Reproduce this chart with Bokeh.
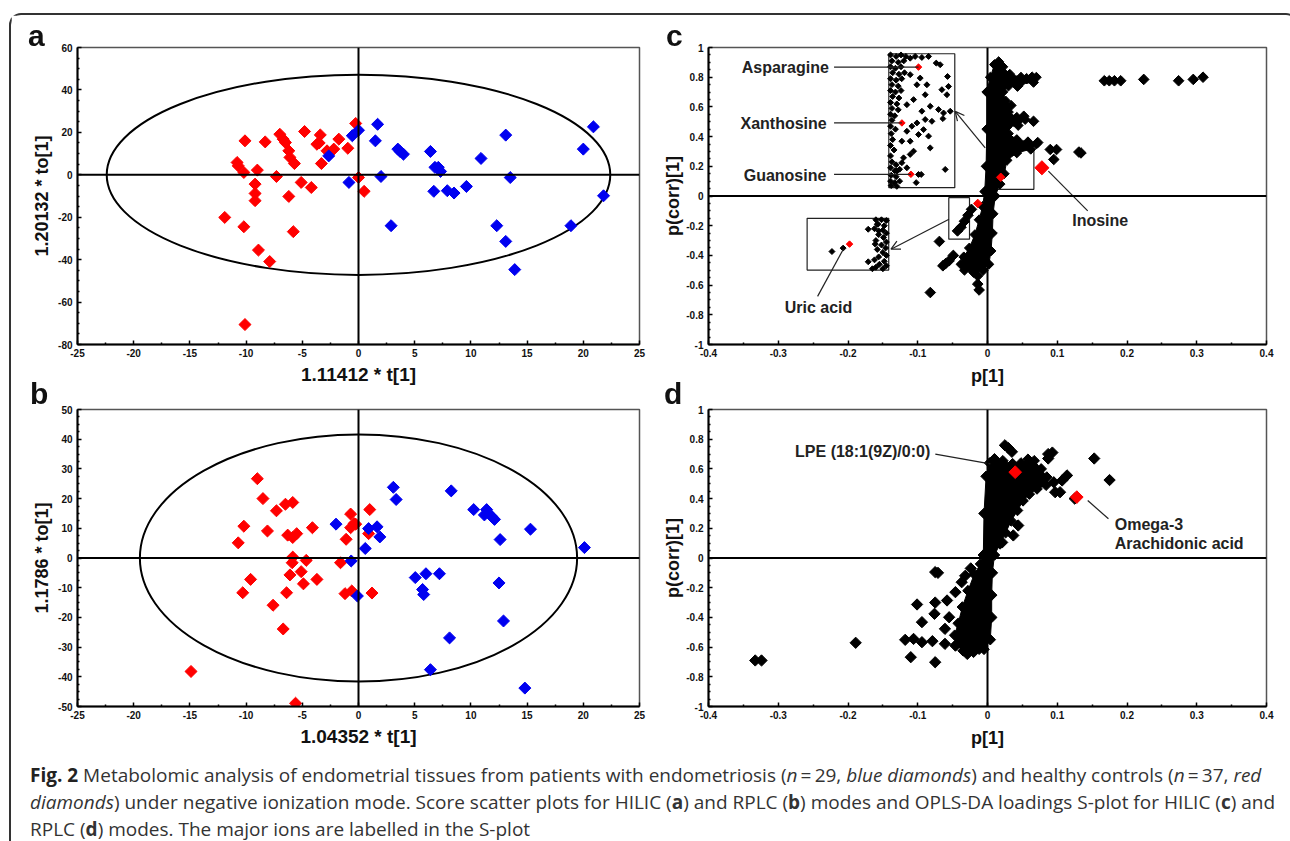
import math
from bokeh.plotting import figure
from bokeh.models import Span, Label, Arrow, OpenHead, FixedTicker, Div, Range1d
from bokeh.layouts import row, column
from bokeh.embed import file_html
from bokeh.resources import INLINE

# ---------------- data ----------------
# Panel a (HILIC score plot)
A_RED_X = [-10.1, -8.3, -7.0, -6.7, -6.5, -4.8, -3.4, -3.7, -3.5, -1.75, -2.2, -2.8, -0.95, -0.25, -6.2, -6.1,
           -5.7, -3.3, -10.8, -10.7, -10.2, -9.0, -7.3, -9.2, -9.2, -9.2, -5.1, -4.2, -6.2, 0.0, 0.5, -11.9,
           -10.2, -5.8, -8.9, -7.9, -10.1]
A_RED_Y = [16.0, 15.5, 19.1, 16.8, 15.2, 20.4, 18.8, 14.4, 15.0, 16.8, 12.1, 11.3, 12.5, 24.2, 11.3, 8.2,
           5.3, 5.3, 5.8, 4.2, 1.1, 2.2, -0.8, -4.4, -8.8, -12.2, -3.6, -6.0, -10.2, -1.3, -7.8, -20.1,
           -24.5, -26.8, -35.5, -40.9, -70.6]
A_BLUE_X = [-2.65, -0.55, 0.0, 1.7, 1.5, -0.85, 2.0, 3.5, 3.7, 4.0, 6.4, 6.8, 7.1, 7.3, 6.7, 7.9, 8.5, 9.6,
            10.9, 2.9, 13.1, 13.5, 12.3, 13.1, 13.9, 18.9, 20.0, 20.9, 21.8]
A_BLUE_Y = [8.9, 18.4, 21.0, 23.8, 16.0, -3.6, -0.8, 12.1, 11.0, 9.7, 11.0, 3.5, 3.5, 1.6, -7.8, -7.5, -8.6,
            -5.5, 7.7, -24.0, 18.7, -1.3, -24.0, -31.4, -44.7, -24.0, 12.1, 22.6, -9.9]
A_ELLIPSE = [22.4, 47.2]          # semi-axes (t, to)

# Panel b (RPLC score plot)
B_RED_X = [-9.0, -8.5, -7.3, -6.5, -5.85, -10.2, -10.7, -8.1, -6.3, -5.85, -5.5, -4.1, -0.7, -0.4, -0.7, -0.25,
           1.0, 0.9, -1.1, -5.85, -5.9, -4.65, -1.6, -5.1, -6.1, -4.9, -3.7, -9.6, -10.3, -6.4, -1.2, -0.6,
           1.2, -7.6, -6.7, -14.9, -5.6]
B_RED_Y = [26.7, 20.0, 15.9, 18.1, 18.7, 10.7, 5.1, 9.1, 7.7, 6.9, 8.2, 10.2, 14.8, 11.6, 10.2, 11.4,
           16.3, 8.2, 6.3, 0.3, -1.6, -0.8, -1.6, -4.6, -5.7, -8.7, -7.2, -7.2, -11.7, -11.7, -12.0, -11.1,
           -11.8, -15.9, -23.9, -38.2, -48.9]
B_BLUE_X = [-2.0, 0.9, 1.65, 1.9, 0.6, -0.65, -0.1, 3.1, 3.35, 8.25, 10.25, 11.4, 11.2, 12.1, 12.6, 15.3,
            20.1, 5.05, 6.0, 7.2, 5.7, 5.8, 12.5, 12.9, 8.1, 6.4, 14.8, 11.5, 11.9]
B_BLUE_Y = [11.4, 9.9, 10.5, 7.1, 3.2, -1.0, -12.8, 23.8, 19.7, 22.6, 16.3, 16.3, 14.5, 13.0, 6.2, 9.7,
            3.5, -6.6, -5.3, -5.3, -10.6, -12.3, -8.4, -21.2, -26.9, -37.6, -43.8, 15.3, 13.8]
B_ELLIPSE = [19.45, 41.6]

# Panel c (HILIC S-plot): dense core outline, outlying loadings, zoom-inset loadings, highlighted ions
C_CORE_X = [0.004, 0.010, 0.016, 0.022, 0.032, 0.048, 0.062, 0.070, 0.066, 0.046, 0.030, 0.022, 0.026, 0.034,
            0.030, 0.042, 0.054, 0.044, 0.028, 0.030, 0.042, 0.058, 0.070, 0.062, 0.042, 0.028, 0.024, 0.018,
            0.011, 0.008, 0.007, 0.005, 0.002, -0.006, -0.020, -0.033, -0.038, -0.034, -0.026, -0.018,
            -0.012, -0.007, -0.004, -0.002, -0.001, -0.001]
C_CORE_Y = [0.80, 0.885, 0.905, 0.87, 0.82, 0.80, 0.79, 0.80, 0.765, 0.755, 0.74, 0.70, 0.64, 0.61,
            0.565, 0.53, 0.515, 0.475, 0.465, 0.42, 0.38, 0.365, 0.35, 0.315, 0.29, 0.24, 0.15, 0.08,
            0.00, -0.12, -0.25, -0.37, -0.46, -0.50, -0.515, -0.50, -0.46, -0.41, -0.35, -0.26,
            -0.16, -0.07, 0.03, 0.20, 0.45, 0.70]
C_OUT_X = [0.1675, 0.1746, 0.182, 0.191, 0.224, 0.274, 0.295, 0.309, 0.090, 0.099, 0.095, 0.134, 0.131,
           0.043, 0.064, 0.056, 0.052, 0.066, 0.072, -0.082, -0.069, -0.064, -0.060, -0.055, -0.049, -0.043,
           -0.038, -0.033, -0.028, -0.023, -0.014, -0.014, -0.012]
C_OUT_Y = [0.776, 0.776, 0.776, 0.776, 0.785, 0.776, 0.785, 0.800, 0.313, 0.313, 0.246, 0.290, 0.296,
           0.740, 0.800, 0.790, 0.537, 0.503, 0.360, -0.650, -0.306, -0.470, -0.455, -0.436, -0.400, -0.235,
           -0.210, -0.170, -0.130, -0.090, -0.537, -0.593, -0.633]
C_INSET_X = [-0.139, -0.131, -0.124, -0.117, -0.137, -0.128, -0.120, -0.139, -0.132, -0.124, -0.136, -0.127,
             -0.119, -0.139, -0.131, -0.123, -0.137, -0.128, -0.139, -0.132, -0.124, -0.136, -0.127, -0.139,
             -0.130, -0.137, -0.128, -0.139, -0.133, -0.137, -0.139, -0.132, -0.138, -0.136, -0.139, -0.134,
             -0.139, -0.137, -0.131, -0.139, -0.133, -0.126, -0.138, -0.131, -0.139, -0.133, -0.126, -0.138,
             -0.130,
             -0.1108, -0.1037, -0.0941, -0.0845, -0.0735, -0.0678, -0.0573, -0.0559, -0.0654, -0.0582,
             -0.0965, -0.0869, -0.1108, -0.1012, -0.0893, -0.1060, -0.1156, -0.0821, -0.0941, -0.0702,
             -0.0630, -0.0534, -0.0640, -0.0797, -0.0893, -0.1012, -0.1084, -0.1156, -0.0917, -0.0989,
             -0.0845, -0.1108, -0.1228, -0.0821, -0.1060, -0.1108, -0.1204, -0.1228, -0.0989, -0.0950,
             -0.0606, -0.1022, -0.1156, -0.1299]
C_INSET_Y = [0.95, 0.94, 0.95, 0.94, 0.91, 0.90, 0.91, 0.87, 0.86, 0.87, 0.83, 0.82, 0.83, 0.79, 0.78, 0.79,
             0.75, 0.74, 0.71, 0.70, 0.71, 0.67, 0.66, 0.63, 0.62, 0.59, 0.58, 0.55, 0.54, 0.51, 0.47, 0.45,
             0.42, 0.38, 0.34, 0.31, 0.27, 0.23, 0.21, 0.19, 0.17, 0.18, 0.14, 0.13, 0.10, 0.09, 0.10, 0.07,
             0.065,
             0.928, 0.940, 0.933, 0.940, 0.895, 0.884, 0.805, 0.738, 0.716, 0.682,
             0.794, 0.749, 0.817, 0.749, 0.682, 0.649, 0.615, 0.604, 0.571, 0.582,
             0.559, 0.571, 0.521, 0.503, 0.515, 0.492, 0.470, 0.436, 0.447, 0.414,
             0.403, 0.369, 0.369, 0.324, 0.302, 0.280, 0.257, 0.224, 0.145, 0.145,
             0.179, 0.090, 0.190, 0.168]
C_INSET2_X = [-0.223, -0.207, -0.171, -0.171, -0.161, -0.158, -0.156, -0.160, -0.152, -0.145, -0.157, -0.148,
              -0.162, -0.150, -0.145, -0.156, -0.149, -0.160, -0.145, -0.152, -0.146, -0.158, -0.150, -0.145,
              -0.156, -0.162, -0.148, -0.155, -0.145, -0.160, -0.150, -0.165]
C_INSET2_Y = [-0.374, -0.351, -0.224, -0.443, -0.324, -0.190, -0.235, -0.16, -0.16, -0.165, -0.19, -0.20,
              -0.22, -0.23, -0.25, -0.26, -0.28, -0.30, -0.31, -0.33, -0.35, -0.36, -0.38, -0.40,
              -0.41, -0.43, -0.44, -0.46, -0.47, -0.48, -0.49, -0.49]
C_ION_NAMES = ["Asparagine", "Xanthosine", "Guanosine", "Inosine", "Uric acid"]
C_ION_X = [-0.0989, -0.1227, -0.1098, 0.078, -0.1978]   # first three and uric acid shown in the magnified insets
C_ION_Y = [0.868, 0.492, 0.146, 0.19, -0.324]
C_CORE_RED_X = [0.019, -0.014]
C_CORE_RED_Y = [0.126, -0.05]

# Panel d (RPLC S-plot)
D_CORE_X = [-0.006, -0.005, -0.002, 0.003, 0.010, 0.022, 0.036, 0.048, 0.058, 0.067, 0.077, 0.085, 0.084,
            0.071, 0.060, 0.051, 0.043, 0.034, 0.026, 0.018, 0.010, 0.007, 0.006, 0.006, 0.004, -0.005,
            -0.020, -0.035, -0.045, -0.047, -0.042, -0.036, -0.028, -0.019, -0.010]
D_CORE_Y = [0.02, 0.30, 0.55, 0.64, 0.668, 0.655, 0.635, 0.64, 0.665, 0.655, 0.60, 0.545, 0.49,
            0.465, 0.43, 0.385, 0.32, 0.25, 0.17, 0.095, 0.02, -0.10, -0.25, -0.40, -0.55, -0.615,
            -0.635, -0.625, -0.585, -0.52, -0.44, -0.33, -0.22, -0.11, -0.04]
D_OUT_X = [0.025, 0.030, 0.035, 0.087, 0.093, 0.087, 0.153, 0.175, 0.114, 0.107, 0.095, 0.097, 0.104, 0.125,
           0.037, 0.046, 0.044, 0.037, 0.021,
           -0.075, -0.071, -0.101, -0.075, -0.058, -0.094, -0.076, -0.061, -0.055, -0.118, -0.106, -0.094,
           -0.079, -0.061, -0.046, -0.110, -0.075, -0.029, -0.012, -0.046, -0.037, -0.032, -0.024, -0.189,
           -0.333, -0.324]
D_OUT_Y = [0.759, 0.740, 0.715, 0.700, 0.710, 0.670, 0.670, 0.525, 0.556, 0.522, 0.510, 0.443, 0.443, 0.400,
           0.350, 0.390, 0.219, 0.152, 0.105,
           -0.095, -0.100, -0.313, -0.300, -0.286, -0.432, -0.376, -0.477, -0.399, -0.551, -0.545, -0.567,
           -0.560, -0.578, -0.590, -0.668, -0.702, -0.646, -0.612, -0.230, -0.163, -0.120, -0.070, -0.571,
           -0.690, -0.690]
D_ION_NAMES = ["LPE (18:1(9Z)/0:0)", "Omega-3", "Arachidonic acid"]
D_ION_X = [0.0397, 0.128]
D_ION_Y = [0.578, 0.41]

# axis ticks and labels
AB_XTICKS = [-25, -20, -15, -10, -5, 0, 5, 10, 15, 20, 25]
AB_XLABELS = ["-25", "-20", "-15", "-10", "-5", "0", "5", "10", "15", "20", "25"]
A_YTICKS = [-80, -60, -40, -20, 0, 20, 40, 60]
A_YLABELS = ["-80", "-60", "-40", "-20", "0", "20", "40", "60"]
B_YTICKS = [-50, -40, -30, -20, -10, 0, 10, 20, 30, 40, 50]
B_YLABELS = ["-50", "-40", "-30", "-20", "-10", "0", "10", "20", "30", "40", "50"]
CD_XTICKS = [-0.4, -0.3, -0.2, -0.1, 0.0, 0.1, 0.2, 0.3, 0.4]
CD_XLABELS = ["-0.4", "-0.3", "-0.2", "-0.1", "0", "0.1", "0.2", "0.3", "0.4"]
CD_YTICKS = [-1.0, -0.8, -0.6, -0.4, -0.2, 0.0, 0.2, 0.4, 0.6, 0.8, 1.0]
CD_YLABELS = ["-1", "-0.8", "-0.6", "-0.4", "-0.2", "0", "0.2", "0.4", "0.6", "0.8", "1"]
PANEL_LETTERS = ["a", "b", "c", "d"]

# ---------------- styling ----------------
FONT = "Liberation Sans"
RED = "#ff0000"
BLUE = "#0000f0"
ANG = math.pi / 4


def base_fig(w, h, left, right, top, bottom, xr, yr, xt, xl, xminor, yt, yl, yminor, xlabel, ylabel,
             xlab_size, ylab_size, x_std, y_std):
    p = figure(width=w, height=h, x_range=Range1d(*xr), y_range=Range1d(*yr),
               output_backend="svg", toolbar_location=None,
               min_border_left=left, min_border_right=right, min_border_top=top, min_border_bottom=bottom)
    p.grid.visible = False
    p.outline_line_color = "#555555"
    p.outline_line_width = 1.5
    p.background_fill_color = "white"
    p.border_fill_color = "white"
    xa, ya = p.xaxis[0], p.yaxis[0]
    xa.ticker = FixedTicker(ticks=xt, minor_ticks=xminor)
    ya.ticker = FixedTicker(ticks=yt, minor_ticks=yminor)
    xa.major_label_overrides = dict(zip(xt, xl))
    ya.major_label_overrides = dict(zip(yt, yl))
    xa.axis_label = xlabel
    ya.axis_label = ylabel
    xa.axis_label_text_font_size = xlab_size
    ya.axis_label_text_font_size = ylab_size
    xa.axis_label_standoff = x_std
    ya.axis_label_standoff = y_std
    xa.major_label_standoff = 4
    ya.major_label_standoff = 5
    for ax in (xa, ya):
        ax.axis_line_width = 2
        ax.axis_line_color = "black"
        ax.major_tick_in = 4
        ax.major_tick_out = 0
        ax.minor_tick_in = 2
        ax.minor_tick_out = 0
        ax.major_tick_line_width = 1.5
        ax.minor_tick_line_width = 1.5
        ax.major_tick_line_color = "black"
        ax.minor_tick_line_color = "black"
        ax.major_label_text_font = FONT
        ax.major_label_text_font_style = "bold"
        ax.major_label_text_font_size = "10px"
        ax.major_label_text_color = "#111111"
        ax.axis_label_text_font = FONT
        ax.axis_label_text_font_style = "bold"
        ax.axis_label_text_color = "#111111"
    p.add_layout(Span(location=0, dimension="height", line_color="black", line_width=2))
    p.add_layout(Span(location=0, dimension="width", line_color="black", line_width=2))
    return p


def callout(p, x, y, txt, align="left"):
    p.add_layout(Label(x=x, y=y, text=txt, text_font=FONT, text_font_style="bold",
                       text_font_size="16px", text_color="#222222", text_align=align,
                       text_baseline="middle"))


ab_xminor = [-22.5, -17.5, -12.5, -7.5, -2.5, 2.5, 7.5, 12.5, 17.5, 22.5]
a_yminor = [v for v in range(-75, 60, 5) if v % 20 != 0]
b_yminor = [v * 2.5 for v in range(-19, 20) if v % 4 != 0]
cd_xminor = [-0.35, -0.25, -0.15, -0.05, 0.05, 0.15, 0.25, 0.35]
cd_yminor = [round(v * 0.05, 2) for v in range(-19, 20) if v % 4 != 0]

# ---------------- panel a ----------------
pa = base_fig(644, 374, 66, 16, 32, 45, (-25, 25), (-80, 60), AB_XTICKS, AB_XLABELS, ab_xminor,
              A_YTICKS, A_YLABELS, a_yminor, "1.11412 * t[1]", "1.20132 * to[1]", "19px", "18px", 4, 3)
pa.ellipse(x=[0], y=[0], width=[2 * A_ELLIPSE[0]], height=[2 * A_ELLIPSE[1]],
           fill_color=None, line_color="black", line_width=2)
pa.scatter(A_RED_X, A_RED_Y, marker="square", angle=ANG, size=8.5, fill_color=RED, line_color=RED)
pa.scatter(A_BLUE_X, A_BLUE_Y, marker="square", angle=ANG, size=8.5, fill_color=BLUE, line_color=BLUE)

# ---------------- panel b ----------------
pb = base_fig(644, 362, 66, 16, 20, 45, (-25, 25), (-50, 50), AB_XTICKS, AB_XLABELS, ab_xminor,
              B_YTICKS, B_YLABELS, b_yminor, "1.04352 * t[1]", "1.1786 * to[1]", "19px", "18px", 4, 3)
pb.ellipse(x=[0], y=[0], width=[2 * B_ELLIPSE[0]], height=[2 * B_ELLIPSE[1]],
           fill_color=None, line_color="black", line_width=2)
pb.scatter(B_RED_X, B_RED_Y, marker="square", angle=ANG, size=8.5, fill_color=RED, line_color=RED)
pb.scatter(B_BLUE_X, B_BLUE_Y, marker="square", angle=ANG, size=8.5, fill_color=BLUE, line_color=BLUE)

# ---------------- panel c ----------------
pc = base_fig(631, 374, 53, 20, 31, 45, (-0.4, 0.4), (-1, 1), CD_XTICKS, CD_XLABELS, cd_xminor,
              CD_YTICKS, CD_YLABELS, cd_yminor, "p[1]", "p(corr)[1]", "18px", "18px", 6, 0)
pc.quad(left=[0.0, -0.0555], right=[0.0665, -0.0258], bottom=[0.045, -0.291], top=[0.313, -0.011],
        fill_color=None, line_color="#222222", line_width=1.2)
pc.patch(C_CORE_X, C_CORE_Y, fill_color="black", line_color="black", line_width=1)
pc.scatter(C_CORE_X, C_CORE_Y, marker="square", angle=ANG, size=7, color="black")
pc.scatter(C_OUT_X, C_OUT_Y, marker="square", angle=ANG, size=7.5, color="black")
pc.scatter(C_CORE_RED_X, C_CORE_RED_Y, marker="square", angle=ANG, size=6, color=RED)
pc.quad(left=[-0.1415, -0.2586], right=[-0.0469, -0.1416], bottom=[0.056, -0.499], top=[0.958, -0.150],
        fill_color="white", line_color="#222222", line_width=1.2)
pc.scatter(C_INSET_X, C_INSET_Y, marker="square", angle=ANG, size=4.2, color="black")
pc.scatter(C_INSET2_X, C_INSET2_Y, marker="square", angle=ANG, size=4.2, color="black")
pc.scatter(C_ION_X[:3] + C_ION_X[4:], C_ION_Y[:3] + C_ION_Y[4:], marker="square", angle=ANG, size=4.6,
           color=RED)
pc.scatter([C_ION_X[3]], [C_ION_Y[3]], marker="square", angle=ANG, size=10, color=RED)
pc.add_layout(Arrow(end=OpenHead(size=9, line_width=1.2, line_color="#222222"), x_start=-0.0033,
                    y_start=0.324, x_end=-0.0463, y_end=0.570, line_width=1.2, line_color="#222222"))
pc.add_layout(Arrow(end=OpenHead(size=9, line_width=1.2, line_color="#222222"), x_start=-0.0552,
                    y_start=-0.157, x_end=-0.1384, y_end=-0.358, line_width=1.2, line_color="#222222"))
pc.segment(x0=[-0.220, -0.220, -0.220, 0.0873, -0.2067], y0=[C_ION_Y[0], C_ION_Y[1], C_ION_Y[2], 0.168, -0.358],
           x1=[C_ION_X[0], C_ION_X[1], C_ION_X[2], 0.1437, -0.2436],
           y1=[C_ION_Y[0], C_ION_Y[1], C_ION_Y[2], -0.10, -0.676],
           line_color="#222222", line_width=1.2)
callout(pc, -0.2275, 0.868, C_ION_NAMES[0], align="right")
callout(pc, -0.2305, 0.488, C_ION_NAMES[1], align="right")
callout(pc, -0.231, 0.141, C_ION_NAMES[2], align="right")
callout(pc, 0.1616, -0.163, C_ION_NAMES[3], align="center")
callout(pc, -0.2423, -0.749, C_ION_NAMES[4], align="center")

# ---------------- panel d ----------------
pd = base_fig(631, 362, 53, 20, 20, 45, (-0.4, 0.4), (-1, 1), CD_XTICKS, CD_XLABELS, cd_xminor,
              CD_YTICKS, CD_YLABELS, cd_yminor, "p[1]", "p(corr)[1]", "18px", "18px", 6, 0)
pd.patch(D_CORE_X, D_CORE_Y, fill_color="black", line_color="black", line_width=1)
pd.scatter(D_CORE_X, D_CORE_Y, marker="square", angle=ANG, size=7.5, color="black")
pd.scatter(D_OUT_X, D_OUT_Y, marker="square", angle=ANG, size=8, color="black")
pd.scatter(D_ION_X, D_ION_Y, marker="square", angle=ANG, size=9, color=RED)
pd.segment(x0=[-0.0748, 0.1437], y0=[0.70, 0.387], x1=[0.004, 0.1734], y1=[0.634, 0.264],
           line_color="#222222", line_width=1.2)
callout(pd, -0.179, 0.719, D_ION_NAMES[0], align="center")
callout(pd, 0.1824, 0.2255, D_ION_NAMES[1], align="left")
callout(pd, 0.1824, 0.0998, D_ION_NAMES[2], align="left")

# ---------------- caption (+ panel letters) ----------------
letter_pos = [(28, 21), (30, 379), (666, 21), (664, 379)]
letters_html = "".join(
    '<div style="position:fixed;left:%dpx;top:%dpx;font-family:\'Liberation Sans\',Arial,sans-serif;'
    'font-weight:bold;font-size:30px;line-height:30px;color:#111;">%s</div>' % (lx, ly, t)
    for (lx, ly), t in zip(letter_pos, PANEL_LETTERS))
caption_html = (
    letters_html +
    '<div style="font-family:\'Open Sans\',sans-serif;font-size:19px;line-height:27px;color:#333333;'
    'white-space:nowrap;padding:6px 0 0 14px;">'
    '<b style="color:#222">Fig. 2</b> Metabolomic analysis of endometrial tissues from patients with endometriosis '
    '(<i>n</i>&#8201;=&#8201;29, <i>blue diamonds</i>) and healthy controls (<i>n</i>&#8201;=&#8201;37, <i>red</i><br>'
    '<i>diamonds</i>) under negative ionization mode. Score scatter plots for HILIC (<b>a</b>) and RPLC (<b>b</b>) '
    'modes and OPLS-DA loadings S-plot for HILIC (<b>c</b>) and<br>'
    'RPLC (<b>d</b>) modes. The major ions are labelled in the S-plot</div>'
)
cap = Div(text=caption_html, width=1275, height=89)

layout = column(row(pa, pc), row(pb, pd), cap, margin=(13, 0, 0, 9),
                styles={"border-top": "2px solid #333333", "border-left": "2px solid #333333",
                        "border-right": "2px solid #333333", "border-top-left-radius": "12px",
                        "border-top-right-radius": "12px"})

open("out.html", "w").write(file_html(layout, INLINE))
